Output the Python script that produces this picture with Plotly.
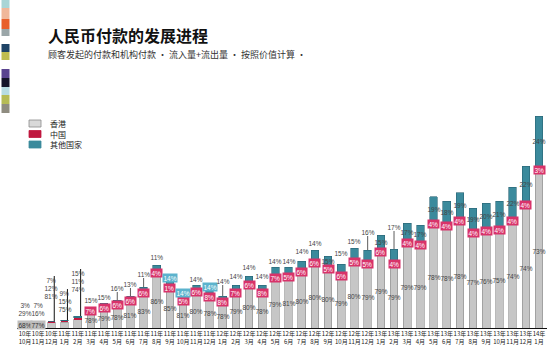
import plotly.graph_objects as go

# ---------------- data ----------------
months = ["10年<br>10月", "10年<br>11月", "10年<br>12月", "11年<br>1月", "11年<br>2月",
          "11年<br>3月", "11年<br>4月", "11年<br>5月", "11年<br>6月", "11年<br>7月",
          "11年<br>8月", "11年<br>9月", "11年<br>10月", "11年<br>11月", "11年<br>12月",
          "12年<br>1月", "12年<br>2月", "12年<br>3月", "12年<br>4月", "12年<br>5月",
          "12年<br>6月", "12年<br>7月", "12年<br>8月", "12年<br>9月", "12年<br>10月",
          "12年<br>11月", "12年<br>12月", "13年<br>1月", "13年<br>2月", "13年<br>3月",
          "13年<br>4月", "13年<br>5月", "13年<br>6月", "13年<br>7月", "13年<br>8月",
          "13年<br>9月", "13年<br>10月", "13年<br>11月", "13年<br>12月", "14年<br>1月"]

# overall payment volume (relative index)
total_volume = [2, 3, 7, 8, 12, 21, 25, 28, 32, 41,
                62, 47, 32, 43, 38, 32, 43, 52, 43, 61,
                61, 67, 78, 72, 64, 80, 78, 93, 79, 105,
                103, 130, 127, 134, 120, 125, 127, 141, 162, 212]

# shares in %
hong_kong = [68, 77, 81, 75, 74, 78, 79, 78, 81, 83,
             86, 85, 81, 80, 78, 78, 79, 80, 78, 79,
             81, 80, 80, 80, 79, 80, 79, 79, 79, 79,
             79, 78, 78, 78, 77, 76, 75, 74, 74, 73]
china = [29, 16, 12, 15, 11, 7, 6, 6, 6, 6,
         4, 1, 5, 6, 8, 8, 7, 6, 8, 7,
         5, 6, 6, 5, 6, 5, 5, 6, 4, 4,
         4, 4, 4, 4, 4, 4, 4, 4, 4, 3]
other = [3, 7, 7, 9, 15, 15, 15, 16, 13, 11,
         11, 14, 14, 14, 14, 14, 14, 14, 14, 14,
         14, 14, 14, 15, 15, 15, 16, 15, 17, 17,
         17, 19, 18, 19, 19, 20, 21, 22, 22, 24]

series_names = ["香港", "中国", "其他国家"]

# ---------------- styling ----------------
C_HK = "#c6c6c6"
C_HK_LINE = "#8a8a8a"
C_CN = "#c0183f"
C_OT = "#3b8a9c"
C_OT_LINE = "#2a6474"
BOX_CN = "#d8336a"
BOX_OT = "#5cb3cd"
FONT_LAB = "Liberation Sans Narrow, Liberation Sans, Arial, sans-serif"
FONT_CJK = "Noto Sans CJK SC, sans-serif"

hk_v = [t * s / 100 for t, s in zip(total_volume, hong_kong)]
cn_v = [t * s / 100 for t, s in zip(total_volume, china)]
ot_v = [t * s / 100 for t, s in zip(total_volume, other)]

W, H = 550, 362
ML, MR, MT, MB = 17, 3, 100, 34
PW, PH = W - ML - MR, H - MT - MB


def xp(px):
    return (px - ML) / PW


def yp(py):
    return (H - MB - py) / PH


fig = go.Figure()
fig.add_trace(go.Bar(x=months, y=hk_v, name=series_names[0], marker=dict(color=C_HK, line=dict(color=C_HK_LINE, width=0.6))))
fig.add_trace(go.Bar(x=months, y=cn_v, name=series_names[1], marker=dict(color=C_CN, line=dict(width=0))))
fig.add_trace(go.Bar(x=months, y=ot_v, name=series_names[2], marker=dict(color=C_OT, line=dict(color=C_OT_LINE, width=0.6))))

annotations = []
shapes = []


def txt(i, y, s, color="#444", bg=None, yshift=0, size=6.5):
    d = dict(x=i, y=y, xref="x", yref="y", text=s, showarrow=False, yshift=yshift,
             font=dict(family=FONT_LAB, size=size, color=color), borderpad=0.5)
    if bg:
        d["bgcolor"] = bg
    annotations.append(d)


# label layout offsets (pixels above bar top) for small early bars
early_lift = {0: 0, 1: 0, 2: 21, 3: 7, 4: 23}
teal_outside_lift = {5: 7, 6: 6, 7: 12, 8: 12, 9: 13, 10: 8, 13: 6, 15: 15, 16: 9,
                     17: 9, 18: 9, 19: 6, 20: 6, 21: 10, 22: 7, 24: 11, 25: 7, 26: 18, 28: 22}
teal_box = {11, 12, 14}

for i in range(len(months)):
    top = hk_v[i] + cn_v[i] + ot_v[i]
    if i in early_lift:
        lift = early_lift[i]
        base = top + lift if lift else 3
        if i <= 1:
            txt(i, 3, f"{hong_kong[i]}%", color="#333", bg="#bdbdbd")
            base = 3
        else:
            txt(i, base + 4, f"{hong_kong[i]}%")
        txt(i, base + 12, f"{china[i]}%")
        txt(i, base + 20, f"{other[i]}%")
        if lift > 0:
            shapes.append(dict(type="line", xref="x", yref="y", x0=i + 0.22, x1=i + 0.22,
                               y0=top, y1=base + 24, line=dict(color="#111", width=1)))
        continue
    # Hong Kong label, centre of grey segment
    txt(i, hk_v[i] / 2, f"{hong_kong[i]}%")
    # China label box
    txt(i, hk_v[i] + cn_v[i] / 2, f"{china[i]}%", color="white", bg=BOX_CN)
    # other countries
    if i in teal_box:
        txt(i, top, f"{other[i]}%", color="white", bg=BOX_OT, yshift=3)
    elif i in teal_outside_lift:
        lift = teal_outside_lift[i]
        txt(i, top, f"{other[i]}%", yshift=lift)
        if lift >= 12:
            shapes.append(dict(type="line", xref="x", yref="y", x0=i, x1=i,
                               y0=top, y1=top + lift - 4, line=dict(color="#333", width=0.8)))
    else:
        txt(i, hk_v[i] + cn_v[i] + ot_v[i] / 2, f"{other[i]}%")

# title & subtitle
annotations.append(dict(x=xp(46), y=yp(35), xref="paper", yref="paper", xanchor="left", yanchor="middle",
                        text="<b>人民币付款的发展进程</b>", showarrow=False,
                        font=dict(family=FONT_CJK, size=16, color="#111")))
annotations.append(dict(x=xp(46), y=yp(54.5), xref="paper", yref="paper", xanchor="left", yanchor="middle",
                        text="顾客发起的付款和机构付款 • 流入量+流出量 • 按照价值计算 •", showarrow=False,
                        font=dict(family=FONT_CJK, size=9, color="#333")))

# legend (manual, compact)
leg = [(series_names[0], "#d9d9d9", "#8a8a8a", 123.5), (series_names[1], C_CN, C_CN, 134),
       (series_names[2], C_OT, C_OT, 144.5)]
for name, fc, lc, cy in leg:
    shapes.append(dict(type="rect", xref="paper", yref="paper", x0=xp(29), x1=xp(41),
                       y0=yp(cy + 3.5), y1=yp(cy - 3.5), fillcolor=fc, line=dict(color=lc, width=0.8)))
    annotations.append(dict(x=xp(48), y=yp(cy), xref="paper", yref="paper", xanchor="left",
                            yanchor="middle", text=name, showarrow=False,
                            font=dict(family=FONT_CJK, size=8, color="#222")))

# decorative colour strip at the left edge
strip = [(0, 8, "#a9d5d6"), (8, 19, "#f0b79a"), (19, 29, "#e8602c"), (29, 36, "#9aa6a8"),
         (44, 52, "#1f4466"), (52, 60, "#bfbd50"), (69, 78, "#5a4490"), (78, 87, "#15152a"),
         (87, 95, "#b7dce2"), (95, 104, "#b6bb55"), (104, 113, "#8f8c80")]
for a, b, c in strip:
    shapes.append(dict(type="rect", xref="paper", yref="paper", x0=xp(1.5), x1=xp(9.5),
                       y0=yp(b), y1=yp(a), fillcolor=c, line=dict(width=0), layer="above"))

fig.update_layout(
    width=W, height=H,
    margin=dict(l=ML, r=MR, t=MT, b=MB, autoexpand=False),
    barmode="stack", bargap=0.42,
    showlegend=False,
    paper_bgcolor="white", plot_bgcolor="white",
    annotations=annotations, shapes=shapes,
    xaxis=dict(type="category", showline=True, linecolor="#111", linewidth=1,
               ticks="", showgrid=False, tickangle=0, automargin=False,
               tickfont=dict(family=FONT_CJK, size=6, color="#222")),
    yaxis=dict(range=[0, PH], visible=False, showgrid=False, fixedrange=True, automargin=False),
)

fig.write_html("out.html", config={"displayModeBar": False},
               post_script="document.body.style.margin='0';document.body.style.padding='0';document.body.style.overflow='hidden';")
